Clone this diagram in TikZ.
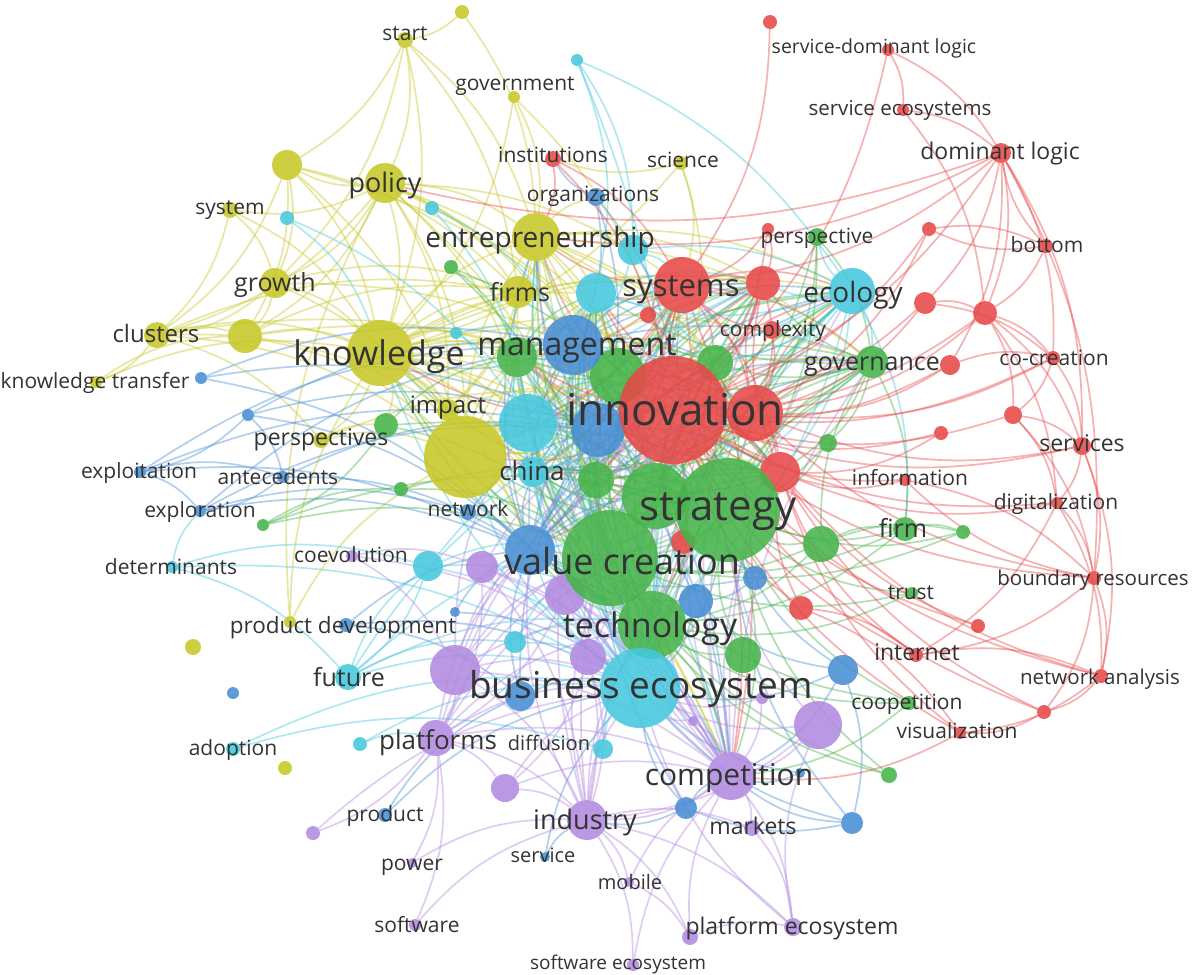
\documentclass[tikz,border=0pt]{standalone}
\usepackage{fontspec}
\setmainfont{Open Sans}
\pgfdeclarelayer{edges}
\pgfdeclarelayer{labels}
\pgfsetlayers{edges,main,labels}
\definecolor{vred}{RGB}{232,72,72}
\definecolor{vgreen}{RGB}{70,180,75}
\definecolor{vblue}{RGB}{72,142,212}
\definecolor{vyel}{RGB}{200,200,40}
\definecolor{vpur}{RGB}{178,138,224}
\definecolor{vcyan}{RGB}{70,200,222}
\tikzset{
  dot/.style={circle, inner sep=0pt, outer sep=0pt, fill=#1, fill opacity=0.88, draw=none},
  rad/.style={minimum size=2*#1pt},
  lab/.style={text=black!80, inner sep=0pt, anchor=base, yshift=-0.36*#1pt, font=\fontsize{#1}{#1}\selectfont},
  lnk/.style={draw=#1, line width=1.7pt, draw opacity=0.42, bend left=16},
}
\begin{document}
\begin{tikzpicture}[x=1pt,y=-1pt]
% ---------------- nodes: yellow
\node[dot=vyel,rad=7] (y1) at (462,12) {};
\node[dot=vyel,rad=8] (start) at (405,40) {};
\node[dot=vyel,rad=6] (govt) at (514,97) {};
\node[dot=vyel,rad=7] (science) at (681,163) {};
\node[dot=vyel,rad=20] (policy) at (385,183) {};
\node[dot=vyel,rad=15] (y2) at (287,165) {};
\node[dot=vyel,rad=8] (system) at (230,210) {};
\node[dot=vyel,rad=15] (growth) at (275,283) {};
\node[dot=vyel,rad=13] (clusters) at (157,335) {};
\node[dot=vyel,rad=17] (y3) at (245,336) {};
\node[dot=vyel,rad=24] (entre) at (536,237) {};
\node[dot=vyel,rad=16] (firms) at (518,292) {};
\node[dot=vyel,rad=6] (ktrans) at (96,382) {};
\node[dot=vyel,rad=8] (persps) at (321,440) {};
\node[dot=vyel,rad=11] (impact) at (448,410) {};
\node[dot=vyel,rad=6] (ypd) at (290,622) {};
\node[dot=vyel,rad=8] (y4) at (193,647) {};
\node[dot=vyel,rad=7] (y5) at (285,768) {};
% cyan
\node[dot=vcyan,rad=6] (c1) at (577,60) {};
\node[dot=vcyan,rad=7] (c2) at (287,218) {};
\node[dot=vcyan,rad=7] (c3) at (432,208) {};
\node[dot=vcyan,rad=6] (c4) at (456,333) {};
\node[dot=vcyan,rad=15] (c5) at (633,250) {};
\node[dot=vcyan,rad=20] (c6) at (596,293) {};
\node[dot=vcyan,rad=23] (ecology) at (852,291) {};
\node[dot=vcyan,rad=15] (china) at (533,472) {};
\node[dot=vcyan,rad=6] (determ) at (172,567) {};
\node[dot=vcyan,rad=15] (c8) at (428,566) {};
\node[dot=vcyan,rad=11] (c9) at (515,642) {};
\node[dot=vcyan,rad=13] (future) at (348,677) {};
\node[dot=vcyan,rad=7] (adoption) at (233,749) {};
\node[dot=vcyan,rad=7] (c10) at (360,744) {};
\node[dot=vcyan,rad=10] (c11) at (603,749) {};
% blue
\node[dot=vblue,rad=9] (org) at (596,197) {};
\node[dot=vblue,rad=6] (b2) at (201,378) {};
\node[dot=vblue,rad=6] (b3) at (248,415) {};
\node[dot=vblue,rad=6] (exploit) at (140,472) {};
\node[dot=vblue,rad=6] (antec) at (283,477) {};
\node[dot=vblue,rad=6] (explor) at (200,511) {};
\node[dot=vblue,rad=8] (network) at (468,512) {};
\node[dot=vblue,rad=12] (b4) at (755,578) {};
\node[dot=vblue,rad=17] (b5) at (696,601) {};
\node[dot=vblue,rad=7] (prodev) at (346,625) {};
\node[dot=vblue,rad=5] (b6) at (455,612) {};
\node[dot=vblue,rad=15] (b7) at (520,696) {};
\node[dot=vblue,rad=15] (b8) at (843,670) {};
\node[dot=vblue,rad=6] (b9) at (233,693) {};
\node[dot=vblue,rad=7] (product) at (385,815) {};
\node[dot=vblue,rad=5] (service) at (545,857) {};
\node[dot=vblue,rad=11] (b10) at (686,808) {};
\node[dot=vblue,rad=11] (b11) at (852,823) {};
\node[dot=vblue,rad=5] (b12) at (800,773) {};
% green
\node[dot=vgreen,rad=7] (g1) at (451,267) {};
\node[dot=vgreen,rad=9] (persp) at (817,237) {};
\node[dot=vgreen,rad=20] (g2) at (517,357) {};
\node[dot=vgreen,rad=18] (g4) at (715,363) {};
\node[dot=vgreen,rad=16] (gov) at (872,362) {};
\node[dot=vgreen,rad=12] (g5) at (386,425) {};
\node[dot=vgreen,rad=7] (g6) at (401,489) {};
\node[dot=vgreen,rad=6] (g7) at (263,525) {};
\node[dot=vgreen,rad=9] (g8) at (828,443) {};
\node[dot=vgreen,rad=18] (g9) at (596,480) {};
\node[dot=vgreen,rad=18] (g10) at (821,544) {};
\node[dot=vgreen,rad=18] (g11) at (743,655) {};
\node[dot=vgreen,rad=12] (firm) at (905,529) {};
\node[dot=vgreen,rad=7] (g12) at (963,532) {};
\node[dot=vgreen,rad=6] (trust) at (912,593) {};
\node[dot=vgreen,rad=7] (coop) at (909,703) {};
\node[dot=vgreen,rad=8] (g13) at (889,775) {};
% red
\node[dot=vred,rad=7] (r1) at (770,22) {};
\node[dot=vred,rad=6] (sdl) at (888,50) {};
\node[dot=vred,rad=6] (sereco) at (903,110) {};
\node[dot=vred,rad=10] (domlog) at (1001,153) {};
\node[dot=vred,rad=8] (instit) at (553,159) {};
\node[dot=vred,rad=6] (r2) at (768,229) {};
\node[dot=vred,rad=7] (r3) at (929,229) {};
\node[dot=vred,rad=7] (bottom) at (1046,246) {};
\node[dot=vred,rad=17] (r4) at (763,283) {};
\node[dot=vred,rad=8] (r5) at (648,315) {};
\node[dot=vred,rad=9] (complex) at (772,330) {};
\node[dot=vred,rad=11] (r6) at (925,303) {};
\node[dot=vred,rad=12] (r7) at (985,313) {};
\node[dot=vred,rad=10] (r8) at (950,365) {};
\node[dot=vred,rad=7] (cocre) at (1053,358) {};
\node[dot=vred,rad=9] (r9) at (1013,415) {};
\node[dot=vred,rad=7] (r10) at (941,433) {};
\node[dot=vred,rad=9] (services) at (1082,446) {};
\node[dot=vred,rad=6] (info) at (905,480) {};
\node[dot=vred,rad=6] (digit) at (1057,503) {};
\node[dot=vred,rad=12] (r13) at (683,542) {};
\node[dot=vred,rad=12] (r14) at (801,608) {};
\node[dot=vred,rad=7] (boundary) at (1094,578) {};
\node[dot=vred,rad=7] (r15) at (978,626) {};
\node[dot=vred,rad=7] (internet) at (916,655) {};
\node[dot=vred,rad=7] (netan) at (1101,676) {};
\node[dot=vred,rad=7] (r16) at (1044,712) {};
\node[dot=vred,rad=6] (visual) at (960,733) {};
% purple
\node[dot=vpur,rad=6] (coevo) at (352,556) {};
\node[dot=vpur,rad=16] (p1) at (482,567) {};
\node[dot=vpur,rad=20] (p2) at (565,595) {};
\node[dot=vpur,rad=25] (p3) at (455,670) {};
\node[dot=vpur,rad=18] (p4) at (588,657) {};
\node[dot=vpur,rad=6] (p5) at (762,698) {};
\node[dot=vpur,rad=5] (p6) at (693,721) {};
\node[dot=vpur,rad=24] (p7) at (818,725) {};
\node[dot=vpur,rad=18] (platforms) at (436,738) {};
\node[dot=vpur,rad=14] (p8) at (505,788) {};
\node[dot=vpur,rad=24] (compet) at (731,776) {};
\node[dot=vpur,rad=20] (industry) at (587,820) {};
\node[dot=vpur,rad=8] (markets) at (752,828) {};
\node[dot=vpur,rad=7] (p9) at (313,833) {};
\node[dot=vpur,rad=5] (power) at (412,863) {};
\node[dot=vpur,rad=5] (mobile) at (629,882) {};
\node[dot=vpur,rad=6] (software) at (415,925) {};
\node[dot=vpur,rad=8] (pe1) at (690,937) {};
\node[dot=vpur,rad=9] (pe2) at (793,927) {};
\node[dot=vpur,rad=6] (softeco) at (633,965) {};
% big nodes
\node[dot=vblue,rad=27] (b1) at (598,430) {};
\node[dot=vgreen,rad=28] (g3) at (618,376) {};
\node[dot=vred,rad=28] (r11) at (755,413) {};
\node[dot=vred,rad=20] (r12) at (780,472) {};
\node[dot=vred,rad=28] (systems) at (682,285) {};
\node[dot=vblue,rad=30] (mgmt) at (573,345) {};
\node[dot=vcyan,rad=29] (c7) at (528,423) {};
\node[dot=vyel,rad=41] (ybig) at (465,457) {};
\node[dot=vyel,rad=33] (knowledge) at (380,353) {};
\node[dot=vred,rad=54] (innov) at (673,410) {};
\node[dot=vgreen,rad=33] (gstrat2) at (655,496) {};
\node[dot=vgreen,rad=52] (strategy) at (728,510) {};
\node[dot=vblue,rad=25] (bval) at (530,550) {};
\node[dot=vgreen,rad=48] (gval) at (610,558) {};
\node[dot=vgreen,rad=34] (tech) at (652,625) {};
\node[dot=vcyan,rad=40] (busy) at (640,688) {};
% ---------------- edges
\begin{pgfonlayer}{edges}
\fill[white] (0,0) rectangle (1200,975);
\def\centralnames{innov,strategy,gval,busy,tech,mgmt,knowledge,systems,ybig,c7,b1,bval,compet,entre,gstrat2,g3,r11,ecology,gov,china,r12,g2,g9,c6,r4,g4}
\foreach \a/\ca [count=\i] in {innov/vred,strategy/vgreen,gval/vgreen,busy/vcyan,tech/vgreen,mgmt/vblue,knowledge/vyel,systems/vred,ybig/vyel,c7/vcyan,b1/vblue,bval/vblue,compet/vpur,entre/vyel,gstrat2/vgreen,g3/vgreen,r11/vred,ecology/vcyan,gov/vgreen,china/vcyan,r12/vred,g2/vgreen,g9/vgreen,c6/vcyan,r4/vred,g4/vgreen}{
  \foreach \b [count=\j] in \centralnames {
    \ifnum\j>\i \draw[lnk=\ca] (\a) to (\b); \fi
  }
}
\foreach \s/\ts in {y1/{start,entre},start/{policy,y2,knowledge,entre,firms,growth},govt/{entre,knowledge,innov},science/{systems,innov,instit,knowledge},policy/{growth,clusters,y2,y3,system,firms,impact,knowledge,entre,innov,strategy,ybig,mgmt,systems,c7,gval},y2/{knowledge,clusters,growth,ybig,y3,innov,firms},system/{growth,clusters,knowledge},growth/{knowledge,clusters,y3,ybig,innov,firms},clusters/{knowledge,y3,ybig,innov,firms,impact,ktrans,persps},y3/{knowledge,ybig,innov,firms},knowledge/{firms,impact,g5,persps,c4},entre/{firms,impact,c5,org},firms/{impact,ybig},ktrans/{knowledge,y3},persps/{ybig,innov,g5},impact/{ybig,innov},ypd/{knowledge,ybig,policy}}{
  \foreach \t in \ts {\draw[lnk=vyel] (\s) to (\t);}
}
\foreach \s/\ts in {c1/{c6,ecology,busy,c5},c2/{knowledge,c7},c3/{mgmt,c7},c4/{c7,mgmt},c5/{systems,ecology,innov,mgmt},c6/{busy},ecology/{persp,g4,firm,tech},c7/{busy,strategy},china/{busy,strategy,tech},determ/{c8,busy,future,explor},c8/{busy,future,innov,tech,gval},c9/{busy,tech,gval},future/{busy,c8,innov,strategy,c9,tech},adoption/{c11,busy},c10/{busy,platforms},c11/{busy,tech}}{
  \foreach \t in \ts {\draw[lnk=vcyan] (\s) to (\t);}
}
\foreach \s/\ts in {org/{mgmt,instit,innov,b1},b2/{b1,mgmt,bval},b3/{exploit,b1,mgmt,bval,antec},exploit/{explor,b1,mgmt,antec,bval},antec/{b1,bval,explor},explor/{b1,bval,mgmt,network},network/{bval,b1},b4/{bval,strategy,innov,b5},b5/{bval,busy,tech,innov},prodev/{bval,busy,b7},b6/{bval,busy},b7/{busy,bval,b1},b8/{b11,compet,busy,strategy,b5},product/{b7,busy},service/{industry,busy},b10/{compet,busy,industry,b1},b11/{compet,busy,strategy,b10},b12/{compet,busy}}{
  \foreach \t in \ts {\draw[lnk=vblue] (\s) to (\t);}
}
\foreach \s/\ts in {g1/{g2,strategy,gval},persp/{gov,strategy,r11,gval},g4/{strategy,gval,tech,innov},gov/{firm,g8},g5/{gval,strategy,g7,g2},g6/{gval,strategy},g7/{gval,strategy,g6},g8/{strategy,gval},g9/{strategy,gval,tech},g10/{strategy,gval,firm,g12,tech,gov},g11/{gval,strategy,tech},firm/{strategy,gval,tech,g12},g12/{strategy,gval},trust/{strategy,gval,tech},coop/{strategy,gval,compet,tech},g13/{strategy,tech,gval}}{
  \foreach \t in \ts {\draw[lnk=vgreen] (\s) to (\t);}
}
\foreach \s/\ts in {r1/{systems},sdl/{domlog,sereco,innov},sereco/{domlog,r7},domlog/{r6,r7,r8,systems,innov,cocre,services,boundary,policy,entre},instit/{innov,systems,entre},r2/{innov,systems,r4},r3/{bottom,r11,innov},bottom/{domlog,r3,r7},r4/{innov,systems,r11},r5/{innov,systems},complex/{innov,systems,r11},r6/{innov,r11,r7,cocre},r7/{innov,r11,services,digit,cocre,r9},r8/{innov,r11,cocre},cocre/{innov,r9,services,r11},r9/{innov,services,digit,boundary},r10/{innov,r12},services/{innov,r11,boundary,netan,digit},info/{innov,r12,boundary},digit/{innov,r12,boundary,netan,internet},r13/{innov,strategy},r14/{innov,r12,internet,visual},boundary/{innov,r11,netan,r16,internet,info},r15/{innov,r12},internet/{innov,r12,netan},netan/{innov,r16,visual,r12},r16/{innov,visual,r12},visual/{innov,compet,r12}}{
  \foreach \t in \ts {\draw[lnk=vred] (\s) to (\t);}
}
\foreach \s/\ts in {coevo/{p1,p3,busy},p1/{busy,compet,industry,platforms,innov},p2/{busy,compet,industry,platforms,innov,strategy,gval,tech},p3/{busy,compet,industry,platforms,innov,strategy,gval,tech,bval,c7},p4/{busy,compet,industry,p8,innov,strategy,gval,tech},p5/{compet,busy},p6/{compet,busy},p7/{compet,busy,industry,strategy},platforms/{p8,software,p9,power,busy,compet,industry,innov,strategy,gval,tech,bval},p8/{industry,compet,busy},compet/{markets,pe2,industry},industry/{markets,mobile,pe1,pe2,softeco,busy,innov,strategy,gval,tech,bval,b1},markets/{pe2},p9/{busy},power/{industry},mobile/{compet,pe1},software/{industry},pe1/{compet,pe2},pe2/{busy,p7},softeco/{compet}}{
  \foreach \t in \ts {\draw[lnk=vpur] (\s) to (\t);}
}
\end{pgfonlayer}
% ---------------- labels
\begin{pgfonlayer}{labels}
\node[lab=21] (l1) at (405,33) {start};
\node[lab=21] (l2) at (515,83) {government};
\node[lab=21] (l3) at (553,155) {institutions};
\node[lab=21] (l4) at (683,160) {science};
\node[lab=19.5] (l5) at (874,46) {service-dominant logic};
\node[lab=20.5] (l6) at (900,108) {service ecosystems};
\node[lab=23] (l7) at (1000,151) {dominant logic};
\node[lab=21] (l8) at (593,194) {organizations};
\node[lab=27] (l9) at (385,183) {policy};
\node[lab=21] (l10) at (230,207) {system};
\node[lab=28] (l11) at (540,237) {entrepreneurship};
\node[lab=21] (l12) at (817,236) {perspective};
\node[lab=21] (l13) at (1047,245) {bottom};
\node[lab=25] (l14) at (275,282) {growth};
\node[lab=25] (l15) at (520,292) {firms};
\node[lab=31] (l16) at (681,285) {systems};
\node[lab=28] (l17) at (853,292) {ecology};
\node[lab=21] (l18) at (773,329) {complexity};
\node[lab=24] (l19) at (156,334) {clusters};
\node[lab=34] (l20) at (379,353) {knowledge};
\node[lab=32] (l21) at (577,344) {management};
\node[lab=25] (l22) at (872,361) {governance};
\node[lab=21] (l23) at (1054,358) {co-creation};
\node[lab=21] (l24) at (95,381) {knowledge transfer};
\node[lab=24] (l25) at (448,405) {impact};
\node[lab=44] (l26) at (675,410) {innovation};
\node[lab=23] (l27) at (321,437) {perspectives};
\node[lab=23] (l28) at (1082,443) {services};
\node[lab=21] (l29) at (139,471) {exploitation};
\node[lab=21] (l30) at (278,477) {antecedents};
\node[lab=26] (l31) at (532,471) {china};
\node[lab=21] (l32) at (910,478) {information};
\node[lab=42] (l33) at (718,505) {strategy};
\node[lab=21] (l34) at (1056,502) {digitalization};
\node[lab=21] (l35) at (200,510) {exploration};
\node[lab=21] (l36) at (468,509) {network};
\node[lab=25] (l37) at (903,528) {firm};
\node[lab=21] (l38) at (351,555) {coevolution};
\node[lab=36] (l39) at (622,562) {value creation};
\node[lab=21] (l40) at (171,567) {determinants};
\node[lab=20.5] (l41) at (1093,578) {boundary resources};
\node[lab=21] (l42) at (911,592) {trust};
\node[lab=34] (l43) at (650,625) {technology};
\node[lab=22.5] (l44) at (343,625) {product development};
\node[lab=23] (l45) at (917,652) {internet};
\node[lab=25] (l46) at (349,677) {future};
\node[lab=37] (l47) at (641,685) {business ecosystem};
\node[lab=20.5] (l48) at (1100,677) {network analysis};
\node[lab=21] (l49) at (907,702) {coopetition};
\node[lab=21] (l50) at (957,731) {visualization};
\node[lab=26] (l51) at (438,740) {platforms};
\node[lab=20] (l52) at (549,743) {diffusion};
\node[lab=21] (l53) at (233,748) {adoption};
\node[lab=30] (l54) at (729,775) {competition};
\node[lab=21] (l55) at (385,814) {product};
\node[lab=27] (l56) at (585,820) {industry};
\node[lab=23] (l57) at (753,826) {markets};
\node[lab=20] (l58) at (543,855) {service};
\node[lab=21] (l59) at (412,863) {power};
\node[lab=20] (l60) at (630,882) {mobile};
\node[lab=21] (l61) at (417,925) {software};
\node[lab=23] (l62) at (792,926) {platform ecosystem};
\node[lab=19] (l63) at (618,963) {software ecosystem};
\end{pgfonlayer}
\useasboundingbox (0,0) rectangle (1200,975);
\end{tikzpicture}
\end{document}
